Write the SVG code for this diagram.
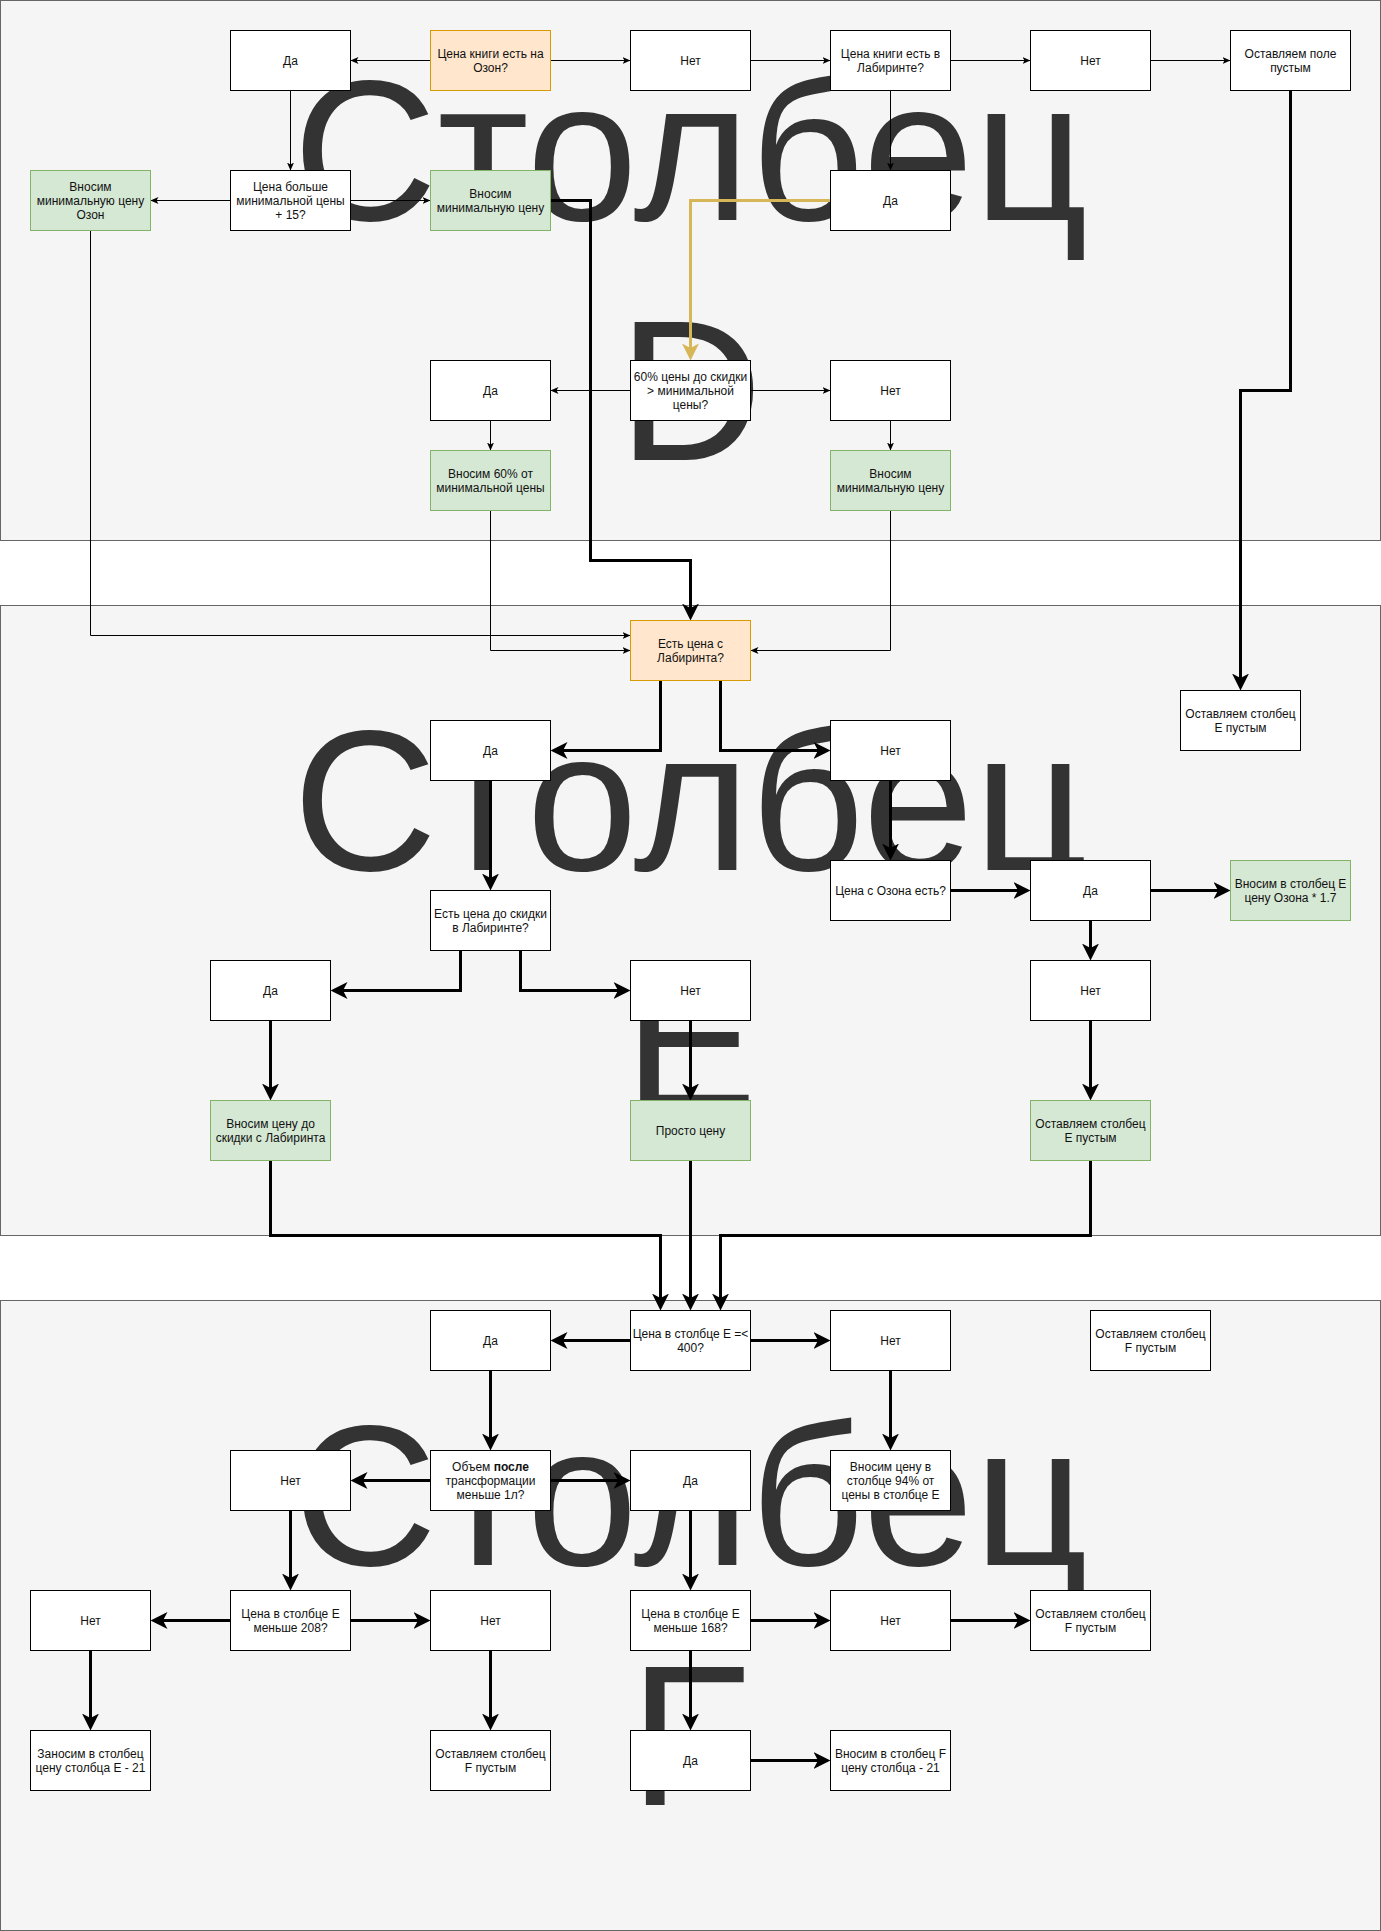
<svg xmlns="http://www.w3.org/2000/svg" width="1381" height="1931" viewBox="0 0 1381 1931">
<style>
.c{fill:#f5f5f5;stroke:#666666;stroke-width:1}
.big{font-family:"Liberation Sans",Arial,Helvetica,sans-serif;font-size:200px;fill:#333333;text-anchor:middle}
.w{fill:#ffffff;stroke:#000000;stroke-width:1}
.g{fill:#d5e8d4;stroke:#82b366;stroke-width:1}
.o{fill:#ffe6cc;stroke:#d79b00;stroke-width:1}
text.l{font-family:"Liberation Sans",Arial,Helvetica,sans-serif;font-size:12px;fill:#111111;text-anchor:middle}
.t{fill:none;stroke:#000000;stroke-width:1;marker-end:url(#at)}
.k{fill:none;stroke:#000000;stroke-width:3;marker-end:url(#ak)}
.y{fill:none;stroke:#d6b656;stroke-width:3;marker-end:url(#ay)}
</style>
<defs>
<marker id="at" markerUnits="userSpaceOnUse" viewBox="0 0 8 7" markerWidth="8" markerHeight="7" refX="8" refY="3.5" orient="auto"><path d="M0,0 L8,3.5 L0,7 L2,3.5 z" fill="#000000"/></marker>
<marker id="ak" markerUnits="userSpaceOnUse" viewBox="0 0 17 17" markerWidth="17" markerHeight="17" refX="13" refY="8.5" orient="auto"><path d="M0,0 L17,8.5 L0,17 L4.5,8.5 z" fill="#000000"/></marker>
<marker id="ay" markerUnits="userSpaceOnUse" viewBox="0 0 17 17" markerWidth="17" markerHeight="17" refX="13" refY="8.5" orient="auto"><path d="M0,0 L17,8.5 L0,17 L4.5,8.5 z" fill="#d6b656"/></marker>
</defs>
<g transform="translate(0.5,0.5)">
<g id="containers">
<rect class="c" x="0" y="0" width="1380" height="540"/>
<rect class="c" x="0" y="605" width="1380" height="630"/>
<rect class="c" x="0" y="1300" width="1380" height="630"/>
</g>
<g id="titles">
<text class="big" x="690" y="219">Столбец</text>
<text class="big" x="690" y="459">D</text>
<text class="big" x="690" y="869">Столбец</text>
<text class="big" x="690" y="1109">E</text>
<text class="big" x="690" y="1564">Столбец</text>
<text class="big" x="690" y="1804">F</text>
</g>
<g id="connectors">
<path class="t" d="M430,60 H350"/>
<path class="t" d="M550,60 H630"/>
<path class="t" d="M750,60 H830"/>
<path class="t" d="M950,60 H1030"/>
<path class="t" d="M1150,60 H1230"/>
<path class="t" d="M290,90 V170"/>
<path class="t" d="M230,200 H150"/>
<path class="t" d="M350,200 H430"/>
<path class="t" d="M890,90 V170"/>
<path class="t" d="M630,390 H550"/>
<path class="t" d="M750,390 H830"/>
<path class="t" d="M490,420 V450"/>
<path class="t" d="M890,420 V450"/>
<path class="t" d="M90,230 V635 H630"/>
<path class="t" d="M490,510 V650 H630"/>
<path class="t" d="M890,510 V650 H750"/>
<path class="y" d="M830,200 H690 V356"/>
<path class="k" d="M550,200 H590 V560 H690 V616"/>
<path class="k" d="M1290,90 V390 H1240 V686"/>
<path class="k" d="M660,680 V750 H554"/>
<path class="k" d="M720,680 V750 H826"/>
<path class="k" d="M490,780 V886"/>
<path class="k" d="M890,780 V856"/>
<path class="k" d="M950,890 H1026"/>
<path class="k" d="M1150,890 H1226"/>
<path class="k" d="M1090,920 V956"/>
<path class="k" d="M1090,1020 V1096"/>
<path class="k" d="M460,950 V990 H334"/>
<path class="k" d="M520,950 V990 H626"/>
<path class="k" d="M270,1020 V1096"/>
<path class="k" d="M690,1020 V1096"/>
<path class="k" d="M270,1160 V1235 H660 V1306"/>
<path class="k" d="M690,1160 V1306"/>
<path class="k" d="M1090,1160 V1235 H720 V1306"/>
<path class="k" d="M630,1340 H554"/>
<path class="k" d="M750,1340 H826"/>
<path class="k" d="M490,1370 V1446"/>
<path class="k" d="M890,1370 V1446"/>
<path class="k" d="M430,1480 H354"/>
<path class="k" d="M550,1480 H626"/>
<path class="k" d="M290,1510 V1586"/>
<path class="k" d="M230,1620 H154"/>
<path class="k" d="M350,1620 H426"/>
<path class="k" d="M90,1650 V1726"/>
<path class="k" d="M490,1650 V1726"/>
<path class="k" d="M690,1510 V1586"/>
<path class="k" d="M750,1620 H826"/>
<path class="k" d="M950,1620 H1026"/>
<path class="k" d="M690,1650 V1726"/>
<path class="k" d="M750,1760 H826"/>
</g>
<g id="n1"><rect class="w" x="230" y="30" width="120" height="60"/><text class="l" x="290" y="64">Да</text></g>
<g id="n2"><rect class="o" x="430" y="30" width="120" height="60"/><text class="l" x="490" y="57">Цена книги есть на</text><text class="l" x="490" y="71">Озон?</text></g>
<g id="n3"><rect class="w" x="630" y="30" width="120" height="60"/><text class="l" x="690" y="64">Нет</text></g>
<g id="n4"><rect class="w" x="830" y="30" width="120" height="60"/><text class="l" x="890" y="57">Цена книги есть в</text><text class="l" x="890" y="71">Лабиринте?</text></g>
<g id="n5"><rect class="w" x="1030" y="30" width="120" height="60"/><text class="l" x="1090" y="64">Нет</text></g>
<g id="n6"><rect class="w" x="1230" y="30" width="120" height="60"/><text class="l" x="1290" y="57">Оставляем поле</text><text class="l" x="1290" y="71">пустым</text></g>
<g id="n7"><rect class="g" x="30" y="170" width="120" height="60"/><text class="l" x="90" y="190">Вносим</text><text class="l" x="90" y="204">минимальную цену</text><text class="l" x="90" y="218">Озон</text></g>
<g id="n8"><rect class="w" x="230" y="170" width="120" height="60"/><text class="l" x="290" y="190">Цена больше</text><text class="l" x="290" y="204">минимальной цены</text><text class="l" x="290" y="218">+ 15?</text></g>
<g id="n9"><rect class="g" x="430" y="170" width="120" height="60"/><text class="l" x="490" y="197">Вносим</text><text class="l" x="490" y="211">минимальную цену</text></g>
<g id="n10"><rect class="w" x="830" y="170" width="120" height="60"/><text class="l" x="890" y="204">Да</text></g>
<g id="n11"><rect class="w" x="430" y="360" width="120" height="60"/><text class="l" x="490" y="394">Да</text></g>
<g id="n12"><rect class="w" x="630" y="360" width="120" height="60"/><text class="l" x="690" y="380">60% цены до скидки</text><text class="l" x="690" y="394">&gt; минимальной</text><text class="l" x="690" y="408">цены?</text></g>
<g id="n13"><rect class="w" x="830" y="360" width="120" height="60"/><text class="l" x="890" y="394">Нет</text></g>
<g id="n14"><rect class="g" x="430" y="450" width="120" height="60"/><text class="l" x="490" y="477">Вносим 60% от</text><text class="l" x="490" y="491">минимальной цены</text></g>
<g id="n15"><rect class="g" x="830" y="450" width="120" height="60"/><text class="l" x="890" y="477">Вносим</text><text class="l" x="890" y="491">минимальную цену</text></g>
<g id="n16"><rect class="o" x="630" y="620" width="120" height="60"/><text class="l" x="690" y="647">Есть цена с</text><text class="l" x="690" y="661">Лабиринта?</text></g>
<g id="n17"><rect class="w" x="1180" y="690" width="120" height="60"/><text class="l" x="1240" y="717">Оставляем столбец</text><text class="l" x="1240" y="731">E пустым</text></g>
<g id="n18"><rect class="w" x="430" y="720" width="120" height="60"/><text class="l" x="490" y="754">Да</text></g>
<g id="n19"><rect class="w" x="830" y="720" width="120" height="60"/><text class="l" x="890" y="754">Нет</text></g>
<g id="n20"><rect class="w" x="830" y="860" width="120" height="60"/><text class="l" x="890" y="894">Цена с Озона есть?</text></g>
<g id="n21"><rect class="w" x="1030" y="860" width="120" height="60"/><text class="l" x="1090" y="894">Да</text></g>
<g id="n22"><rect class="g" x="1230" y="860" width="120" height="60"/><text class="l" x="1290" y="887">Вносим в столбец E</text><text class="l" x="1290" y="901">цену Озона * 1.7</text></g>
<g id="n23"><rect class="w" x="430" y="890" width="120" height="60"/><text class="l" x="490" y="917">Есть цена до скидки</text><text class="l" x="490" y="931">в Лабиринте?</text></g>
<g id="n24"><rect class="w" x="210" y="960" width="120" height="60"/><text class="l" x="270" y="994">Да</text></g>
<g id="n25"><rect class="w" x="630" y="960" width="120" height="60"/><text class="l" x="690" y="994">Нет</text></g>
<g id="n26"><rect class="w" x="1030" y="960" width="120" height="60"/><text class="l" x="1090" y="994">Нет</text></g>
<g id="n27"><rect class="g" x="210" y="1100" width="120" height="60"/><text class="l" x="270" y="1127">Вносим цену до</text><text class="l" x="270" y="1141">скидки с Лабиринта</text></g>
<g id="n28"><rect class="g" x="630" y="1100" width="120" height="60"/><text class="l" x="690" y="1134">Просто цену</text></g>
<g id="n29"><rect class="g" x="1030" y="1100" width="120" height="60"/><text class="l" x="1090" y="1127">Оставляем столбец</text><text class="l" x="1090" y="1141">E пустым</text></g>
<g id="n30"><rect class="w" x="630" y="1310" width="120" height="60"/><text class="l" x="690" y="1337">Цена в столбце E =&lt;</text><text class="l" x="690" y="1351">400?</text></g>
<g id="n31"><rect class="w" x="430" y="1310" width="120" height="60"/><text class="l" x="490" y="1344">Да</text></g>
<g id="n32"><rect class="w" x="830" y="1310" width="120" height="60"/><text class="l" x="890" y="1344">Нет</text></g>
<g id="n33"><rect class="w" x="1090" y="1310" width="120" height="60"/><text class="l" x="1150" y="1337">Оставляем столбец</text><text class="l" x="1150" y="1351">F пустым</text></g>
<g id="n34"><rect class="w" x="430" y="1450" width="120" height="60"/><text class="l" x="490" y="1470">Объем <tspan font-weight="bold">после</tspan></text><text class="l" x="490" y="1484">трансформации</text><text class="l" x="490" y="1498">меньше 1л?</text></g>
<g id="n35"><rect class="w" x="230" y="1450" width="120" height="60"/><text class="l" x="290" y="1484">Нет</text></g>
<g id="n36"><rect class="w" x="630" y="1450" width="120" height="60"/><text class="l" x="690" y="1484">Да</text></g>
<g id="n37"><rect class="w" x="830" y="1450" width="120" height="60"/><text class="l" x="890" y="1470">Вносим цену в</text><text class="l" x="890" y="1484">столбце 94% от</text><text class="l" x="890" y="1498">цены в столбце E</text></g>
<g id="n38"><rect class="w" x="30" y="1590" width="120" height="60"/><text class="l" x="90" y="1624">Нет</text></g>
<g id="n39"><rect class="w" x="230" y="1590" width="120" height="60"/><text class="l" x="290" y="1617">Цена в столбце E</text><text class="l" x="290" y="1631">меньше 208?</text></g>
<g id="n40"><rect class="w" x="430" y="1590" width="120" height="60"/><text class="l" x="490" y="1624">Нет</text></g>
<g id="n41"><rect class="w" x="630" y="1590" width="120" height="60"/><text class="l" x="690" y="1617">Цена в столбце E</text><text class="l" x="690" y="1631">меньше 168?</text></g>
<g id="n42"><rect class="w" x="830" y="1590" width="120" height="60"/><text class="l" x="890" y="1624">Нет</text></g>
<g id="n43"><rect class="w" x="1030" y="1590" width="120" height="60"/><text class="l" x="1090" y="1617">Оставляем столбец</text><text class="l" x="1090" y="1631">F пустым</text></g>
<g id="n44"><rect class="w" x="30" y="1730" width="120" height="60"/><text class="l" x="90" y="1757">Заносим в столбец</text><text class="l" x="90" y="1771">цену столбца E - 21</text></g>
<g id="n45"><rect class="w" x="430" y="1730" width="120" height="60"/><text class="l" x="490" y="1757">Оставляем столбец</text><text class="l" x="490" y="1771">F пустым</text></g>
<g id="n46"><rect class="w" x="630" y="1730" width="120" height="60"/><text class="l" x="690" y="1764">Да</text></g>
<g id="n47"><rect class="w" x="830" y="1730" width="120" height="60"/><text class="l" x="890" y="1757">Вносим в столбец F</text><text class="l" x="890" y="1771">цену столбца - 21</text></g>
</g>
</svg>
